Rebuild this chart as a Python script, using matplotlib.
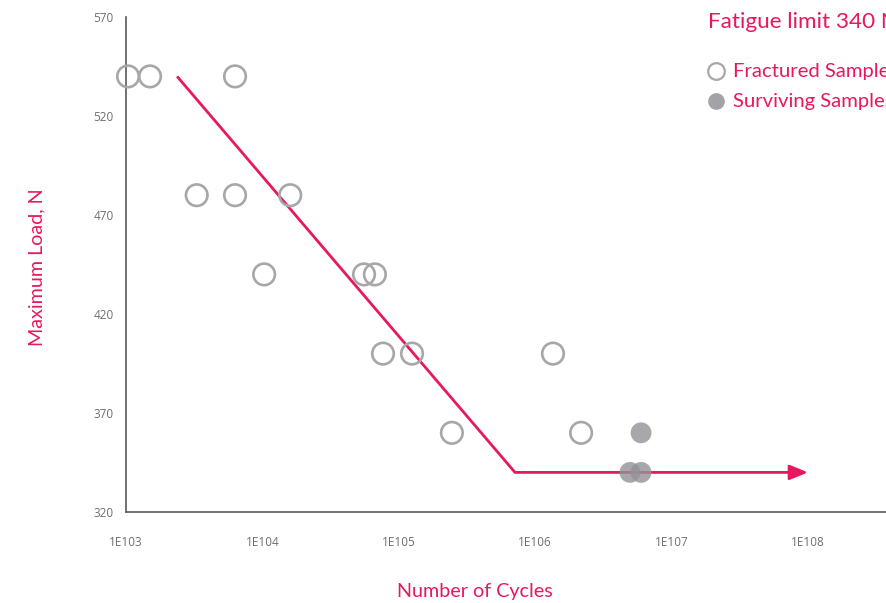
import matplotlib
matplotlib.use("Agg")
import matplotlib.pyplot as plt
from matplotlib.lines import Line2D

# Data
fractured_cycles = [1035, 1500, 6300, 3300, 6300, 16000, 10300, 55600, 66800,
                    76600, 125000, 1.35e6, 245000, 2.17e6]
fractured_load = [540, 540, 540, 480, 480, 480, 440, 440, 440,
                  400, 400, 400, 360, 360]
surviving_cycles = [5.97e6, 4.95e6, 5.97e6]
surviving_load = [360, 340, 340]
sn_cycles = [2370, 711000, 1e8]
sn_load = [540, 340, 340]
x_ticks = [1e3, 1e4, 1e5, 1e6, 1e7, 1e8]
x_tick_labels = ["1E103", "1E104", "1E105", "1E106", "1E107", "1E108"]
y_ticks = [320, 370, 420, 470, 520, 570]
legend_labels = ["Fractured Samples", "Surviving Samples"]

PINK = "#E8185E"
GREY = "#A7A7AB"
AX = "#5A5A5A"
TICK = "#6E6E6E"

plt.rcParams['font.family'] = ['Open Sans', 'DejaVu Sans']
LATO = ["Lato", "DejaVu Sans"]

W, H = 886, 603
fig = plt.figure(figsize=(W / 100, H / 100), dpi=100)
ax = fig.add_axes([126 / W, (H - 512) / H, 760 / W, 495 / H])

ax.set_xscale("log")
ax.set_xlim(1e3, 10 ** (3 + 760 / 136.4))
ax.set_ylim(320, 570)

# S-N line with arrow
ax.plot(sn_cycles[:2], sn_load[:2], color=PINK, lw=2.0, solid_capstyle="butt", zorder=2)
ax.annotate("", xy=(sn_cycles[2], sn_load[2]), xytext=(sn_cycles[1], sn_load[1]),
            arrowprops=dict(arrowstyle="-|>,head_length=1.1,head_width=0.45",
                            color=PINK, lw=2.0, shrinkA=0, shrinkB=0), zorder=2)

ax.scatter(fractured_cycles, fractured_load, s=15.5 ** 2, facecolors="none",
           edgecolors=GREY, linewidths=1.9, zorder=3, clip_on=False)
ax.scatter(surviving_cycles, surviving_load, s=15 ** 2, color="#939397", alpha=0.8,
           edgecolors="none", zorder=3, clip_on=False)

for s in ["top", "right"]:
    ax.spines[s].set_visible(False)
for s in ["left", "bottom"]:
    ax.spines[s].set_color(AX)
    ax.spines[s].set_linewidth(1.2)

ax.set_xticks(x_ticks)
ax.set_xticklabels(x_tick_labels)
ax.minorticks_off()
ax.set_yticks(y_ticks)
ax.tick_params(axis="both", length=0, labelsize=8.5, labelcolor=TICK)
ax.tick_params(axis="x", pad=17)
ax.tick_params(axis="y", pad=9)

fig.text(475 / W, 1 - 591 / H, "Number of Cycles", color=PINK, fontsize=14.2,
         ha="center", va="center", family=LATO)
fig.text(37 / W, 1 - 267 / H, "Maximum Load, N", color=PINK, fontsize=14.2,
         ha="center", va="center", rotation=90, family=LATO)

fig.text(708 / W, 1 - 22 / H, "Fatigue limit 340 N", color=PINK, fontsize=16.2,
         ha="left", va="center", family=LATO)

# Legend (manual placement)
fig.add_artist(Line2D([716 / W], [1 - 71 / H], marker="o", ls="none", markersize=12,
                      markerfacecolor="none", markeredgecolor=GREY, markeredgewidth=1.6,
                      transform=fig.transFigure))
fig.add_artist(Line2D([716 / W], [1 - 101 / H], marker="o", ls="none", markersize=12,
                      markerfacecolor="#A3A3A7", markeredgecolor="none",
                      transform=fig.transFigure))
fig.text(733 / W, 1 - 71 / H, legend_labels[0], color=PINK, fontsize=14.6,
         ha="left", va="center", family=LATO)
fig.text(733 / W, 1 - 101 / H, legend_labels[1], color=PINK, fontsize=14.6,
         ha="left", va="center", family=LATO)

fig.savefig("out.png", dpi=100)
